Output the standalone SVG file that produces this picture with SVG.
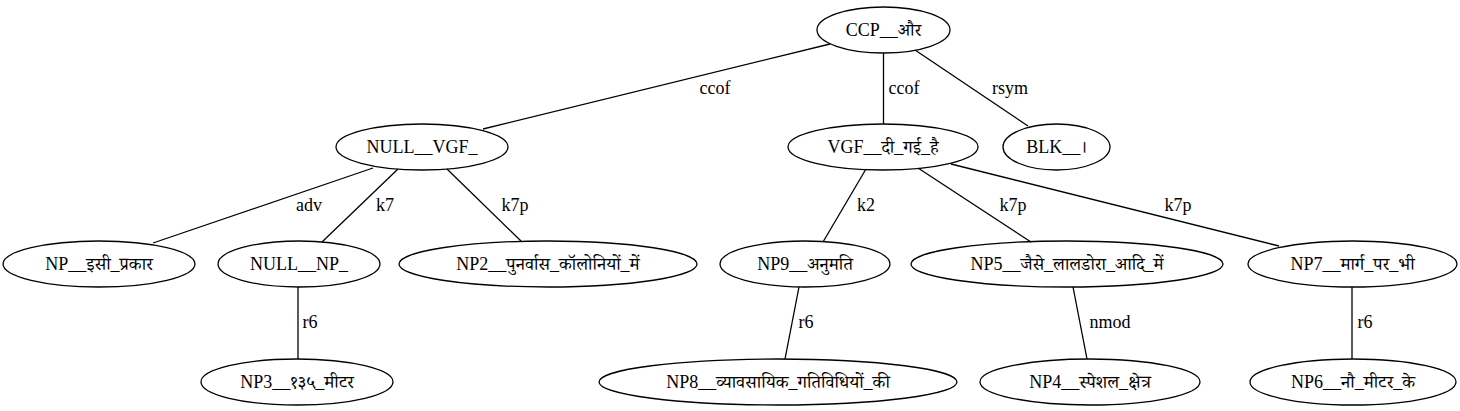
<svg xmlns="http://www.w3.org/2000/svg" width="1460" height="411" viewBox="0 0 1460 411">
<style>
.bg{fill:#ffffff}
.node ellipse{fill:none;stroke:#000;stroke-width:1.3}
.node text{font-family:"Liberation Serif","Noto Serif Devanagari","Noto Sans Devanagari","Lohit Devanagari",serif;font-size:18px;fill:#000;text-anchor:middle}
.edges path{fill:none;stroke:#000;stroke-width:1.3}
.edges text{font-family:"Liberation Serif",serif;font-size:18px;fill:#000;text-anchor:middle}
</style>
<rect class="bg" x="0" y="0" width="1460" height="411"/>
<g id="edges" class="edges">
<path d="M830,44 L483,129"/>
<path d="M883.5,53 L883.5,124"/>
<path d="M915,50 L1028,126"/>
<path d="M373,168 L153,243"/>
<path d="M398,169 L322,242"/>
<path d="M447,169 L521,241"/>
<path d="M866,169 L823,242"/>
<path d="M918,168 L1031,242"/>
<path d="M951,164 L1279,246"/>
<path d="M298,287 L298,359"/>
<path d="M799,287 L785,359"/>
<path d="M1073,287 L1087,359"/>
<path d="M1352,287 L1352,359"/>
<text x="715" y="94">ccof</text>
<text x="904" y="94">ccof</text>
<text x="1010" y="94">rsym</text>
<text x="309" y="211">adv</text>
<text x="385" y="211">k7</text>
<text x="515" y="211">k7p</text>
<text x="866" y="211">k2</text>
<text x="1013" y="211">k7p</text>
<text x="1178" y="211">k7p</text>
<text x="310" y="328">r6</text>
<text x="806" y="328">r6</text>
<text x="1110" y="328">nmod</text>
<text x="1365" y="328">r6</text>
</g>
<g id="n_ccp" class="node"><ellipse cx="883.5" cy="30" rx="66.5" ry="23"/><text x="883.5" y="36">CCP__और</text></g>
<g id="n_null_vgf" class="node"><ellipse cx="422" cy="147" rx="86" ry="23"/><text x="422" y="153">NULL__VGF_</text></g>
<g id="n_vgf" class="node"><ellipse cx="883" cy="147" rx="95" ry="23"/><text x="883" y="153">VGF__दी_गई_है</text></g>
<g id="n_blk" class="node"><ellipse cx="1056.5" cy="147" rx="53.5" ry="23"/><text x="1056.5" y="153">BLK__।</text></g>
<g id="n_np_isi" class="node"><ellipse cx="99" cy="264" rx="96" ry="23"/><text x="99" y="270">NP__इसी_प्रकार</text></g>
<g id="n_null_np" class="node"><ellipse cx="299" cy="264" rx="81" ry="23"/><text x="299" y="270">NULL__NP_</text></g>
<g id="n_np2" class="node"><ellipse cx="548" cy="264" rx="149" ry="23"/><text x="548" y="270">NP2__पुनर्वास_कॉलोनियों_में</text></g>
<g id="n_np9" class="node"><ellipse cx="805" cy="264" rx="85" ry="23"/><text x="805" y="270">NP9__अनुमति</text></g>
<g id="n_np5" class="node"><ellipse cx="1067" cy="264" rx="156" ry="23"/><text x="1067" y="270">NP5__जैसे_लालडोरा_आदि_में</text></g>
<g id="n_np7" class="node"><ellipse cx="1352.5" cy="264" rx="104.5" ry="23"/><text x="1352.5" y="270">NP7__मार्ग_पर_भी</text></g>
<g id="n_np3" class="node"><ellipse cx="297" cy="382" rx="96" ry="23"/><text x="297" y="388">NP3__१३५_मीटर</text></g>
<g id="n_np8" class="node"><ellipse cx="778" cy="382" rx="179" ry="23"/><text x="778" y="388">NP8__व्यावसायिक_गतिविधियों_की</text></g>
<g id="n_np4" class="node"><ellipse cx="1090" cy="382" rx="110" ry="23"/><text x="1090" y="388">NP4__स्पेशल_क्षेत्र</text></g>
<g id="n_np6" class="node"><ellipse cx="1353" cy="382" rx="103" ry="23"/><text x="1353" y="388">NP6__नौ_मीटर_के</text></g>
</svg>
